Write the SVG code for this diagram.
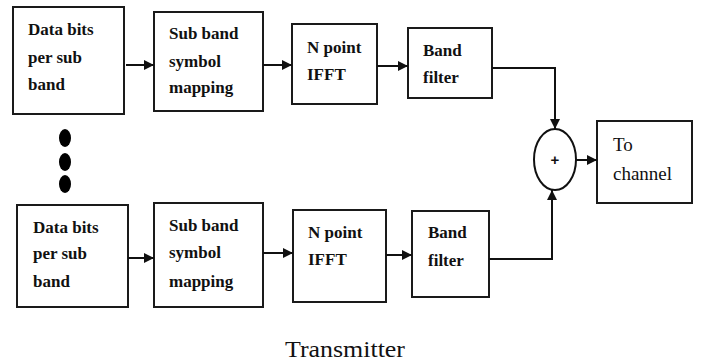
<svg xmlns="http://www.w3.org/2000/svg" width="702" height="363" viewBox="0 0 702 363">
  <style>
    .box { fill: #ffffff; stroke: #1a1a1a; stroke-width: 2; }
    .lbl { font-family: "Liberation Serif", "Times New Roman", serif; font-size: 17px; font-weight: bold; fill: #111111; }
    .out { font-family: "Liberation Serif", "Times New Roman", serif; font-size: 19px; fill: #111111; }
    .wire { fill: none; stroke: #111111; stroke-width: 2; }
    .dot { fill: #000000; }
  </style>
  <defs>
    <marker id="arrow" viewBox="0 0 10 10" refX="10" refY="5" markerWidth="10" markerHeight="10" markerUnits="userSpaceOnUse" orient="auto">
      <path d="M0,0 L10,5 L0,10 Z" fill="#111111"/>
    </marker>
  </defs>

  <rect width="702" height="363" fill="#ffffff"/>

  <!-- upper branch -->
  <g id="bits-top">
    <rect class="box" x="13" y="7" width="111" height="107"/>
    <text class="lbl" x="28" y="35">Data bits</text>
    <text class="lbl" x="28" y="63">per sub</text>
    <text class="lbl" x="28" y="90">band</text>
  </g>
  <g id="mapping-top">
    <rect class="box" x="154" y="12" width="109" height="99"/>
    <text class="lbl" x="169" y="39">Sub band</text>
    <text class="lbl" x="169" y="67">symbol</text>
    <text class="lbl" x="169" y="93">mapping</text>
  </g>
  <g id="ifft-top">
    <rect class="box" x="292" y="24" width="85" height="80"/>
    <text class="lbl" x="307" y="53">N point</text>
    <text class="lbl" x="307" y="80">IFFT</text>
  </g>
  <g id="filter-top">
    <rect class="box" x="408" y="28" width="84" height="70"/>
    <text class="lbl" x="423" y="56">Band</text>
    <text class="lbl" x="423" y="83">filter</text>
  </g>

  <!-- ellipsis between branches -->
  <g id="more-branches">
    <ellipse class="dot" cx="65" cy="138" rx="6" ry="9"/>
    <ellipse class="dot" cx="65" cy="162" rx="6" ry="9"/>
    <ellipse class="dot" cx="65" cy="184" rx="6" ry="9"/>
  </g>

  <!-- lower branch -->
  <g id="bits-bottom">
    <rect class="box" x="17" y="205" width="111" height="102"/>
    <text class="lbl" x="33" y="233">Data bits</text>
    <text class="lbl" x="33" y="259">per sub</text>
    <text class="lbl" x="33" y="287">band</text>
  </g>
  <g id="mapping-bottom">
    <rect class="box" x="154" y="203" width="109" height="104"/>
    <text class="lbl" x="169" y="231">Sub band</text>
    <text class="lbl" x="169" y="258">symbol</text>
    <text class="lbl" x="169" y="287">mapping</text>
  </g>
  <g id="ifft-bottom">
    <rect class="box" x="293" y="210" width="93" height="92"/>
    <text class="lbl" x="308" y="238">N point</text>
    <text class="lbl" x="308" y="265">IFFT</text>
  </g>
  <g id="filter-bottom">
    <rect class="box" x="412" y="211" width="77" height="86"/>
    <text class="lbl" x="428" y="238">Band</text>
    <text class="lbl" x="428" y="266">filter</text>
  </g>

  <!-- summing junction -->
  <g id="adder">
    <ellipse cx="555" cy="159.5" rx="21" ry="30.5" fill="#ffffff" stroke="#111111" stroke-width="2"/>
    <text x="555" y="165" text-anchor="middle" font-family="Liberation Sans, Arial, sans-serif" font-size="15" font-weight="bold" fill="#111111">+</text>
  </g>

  <g id="channel">
    <rect class="box" x="597" y="121" width="95" height="82"/>
    <text class="out" x="613" y="151">To</text>
    <text class="out" x="613" y="180">channel</text>
  </g>

  <!-- connectors -->
  <g id="connectors">
    <line class="wire" x1="126" y1="65" x2="154" y2="65" marker-end="url(#arrow)"/>
    <line class="wire" x1="263" y1="65" x2="292" y2="65" marker-end="url(#arrow)"/>
    <line class="wire" x1="377" y1="66" x2="408" y2="66" marker-end="url(#arrow)"/>
    <polyline class="wire" points="492,68 555,68 555,129" marker-end="url(#arrow)"/>

    <line class="wire" x1="128" y1="258" x2="154" y2="258" marker-end="url(#arrow)"/>
    <line class="wire" x1="263" y1="253" x2="293" y2="253" marker-end="url(#arrow)"/>
    <line class="wire" x1="386" y1="255" x2="412" y2="255" marker-end="url(#arrow)"/>
    <polyline class="wire" points="489,259 552,259 552,190" marker-end="url(#arrow)"/>

    <line class="wire" x1="576" y1="160" x2="597" y2="160" marker-end="url(#arrow)"/>
  </g>

  <text x="345" y="357" text-anchor="middle" font-family="Liberation Serif, Times New Roman, serif" font-size="24" fill="#111111" textLength="120" lengthAdjust="spacingAndGlyphs">Transmitter</text>
</svg>
